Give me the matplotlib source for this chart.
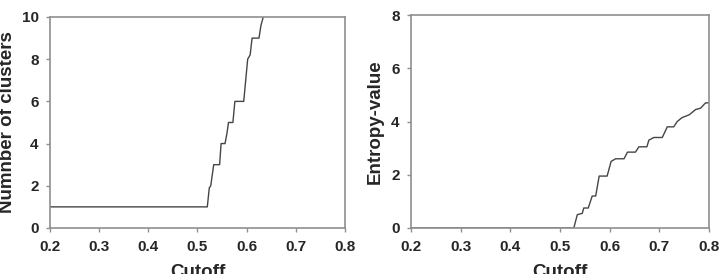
import numpy as np
import matplotlib
matplotlib.use('Agg')
import matplotlib.pyplot as plt

plt.rcParams['font.family'] = ['Liberation Sans', 'DejaVu Sans']
plt.rcParams['font.weight'] = 'bold'

# left panel: number of clusters vs cutoff
cut_a = [0.2, 0.520, 0.524, 0.527, 0.530, 0.533, 0.545, 0.548, 0.556, 0.560, 0.563,
         0.572, 0.576, 0.594, 0.598, 0.602, 0.607, 0.611, 0.625, 0.629, 0.636]
clusters = [1, 1, 1.9, 2.0, 2.5, 3, 3, 4, 4, 4.5, 5,
            5, 6, 6, 7, 8, 8.2, 9, 9, 9.6, 10.2]

# right panel: entropy value vs cutoff
cut_b = [0.2, 0.518, 0.528, 0.535, 0.545, 0.548, 0.557, 0.565, 0.572, 0.579, 0.595,
         0.603, 0.612, 0.629, 0.636, 0.652, 0.659, 0.675, 0.679, 0.689, 0.706,
         0.716, 0.729, 0.736, 0.746, 0.760, 0.773, 0.783, 0.793, 0.8]
entropy = [0, 0, 0, 0.5, 0.55, 0.75, 0.75, 1.2, 1.2, 1.95, 1.95,
           2.5, 2.6, 2.6, 2.85, 2.85, 3.05, 3.05, 3.3, 3.4, 3.4,
           3.8, 3.8, 4.0, 4.15, 4.25, 4.45, 4.5, 4.7, 4.7]

xticks = [0.2, 0.3, 0.4, 0.5, 0.6, 0.7, 0.8]

fig = plt.figure(figsize=(7.22, 2.74), dpi=100)
ax1 = fig.add_axes([0.069, 0.168, 0.409, 0.770])
ax2 = fig.add_axes([0.569, 0.168, 0.413, 0.777])

spine_col = '#8f8f8f'
line_col = '#454545'
text_col = '#262626'

panels = [(ax1, cut_a, clusters, 10, [0, 2, 4, 6, 8, 10], 'Numnber of clusters', -0.115),
          (ax2, cut_b, entropy, 8, [0, 2, 4, 6, 8], 'Entropy-value', -0.091)]

for ax, x, y, ymax, yt, ylab, lx in panels:
    ax.plot(x, y, color=line_col, lw=1.0)
    ax.set_xlim(0.2, 0.8)
    ax.set_ylim(0, ymax)
    ax.set_xticks(xticks)
    ax.set_xticklabels(['%.1f' % t for t in xticks])
    ax.set_yticks(yt)
    for s in ax.spines.values():
        s.set_color(spine_col)
        s.set_linewidth(1.2)
    ax.tick_params(direction='out', length=3, width=1, color=spine_col,
                   labelsize=11, labelcolor=text_col)
    ax.tick_params(axis='x', pad=6)
    ax.tick_params(axis='y', pad=5)
    ax.set_xlabel('Cutoff', fontsize=13.5, fontweight='bold', color=text_col, labelpad=7)
    ax.set_ylabel(ylab, fontsize=13.5, fontweight='bold', color=text_col)
    ax.yaxis.set_label_coords(lx, 0.5)

fig.savefig('out.png', dpi=100)
